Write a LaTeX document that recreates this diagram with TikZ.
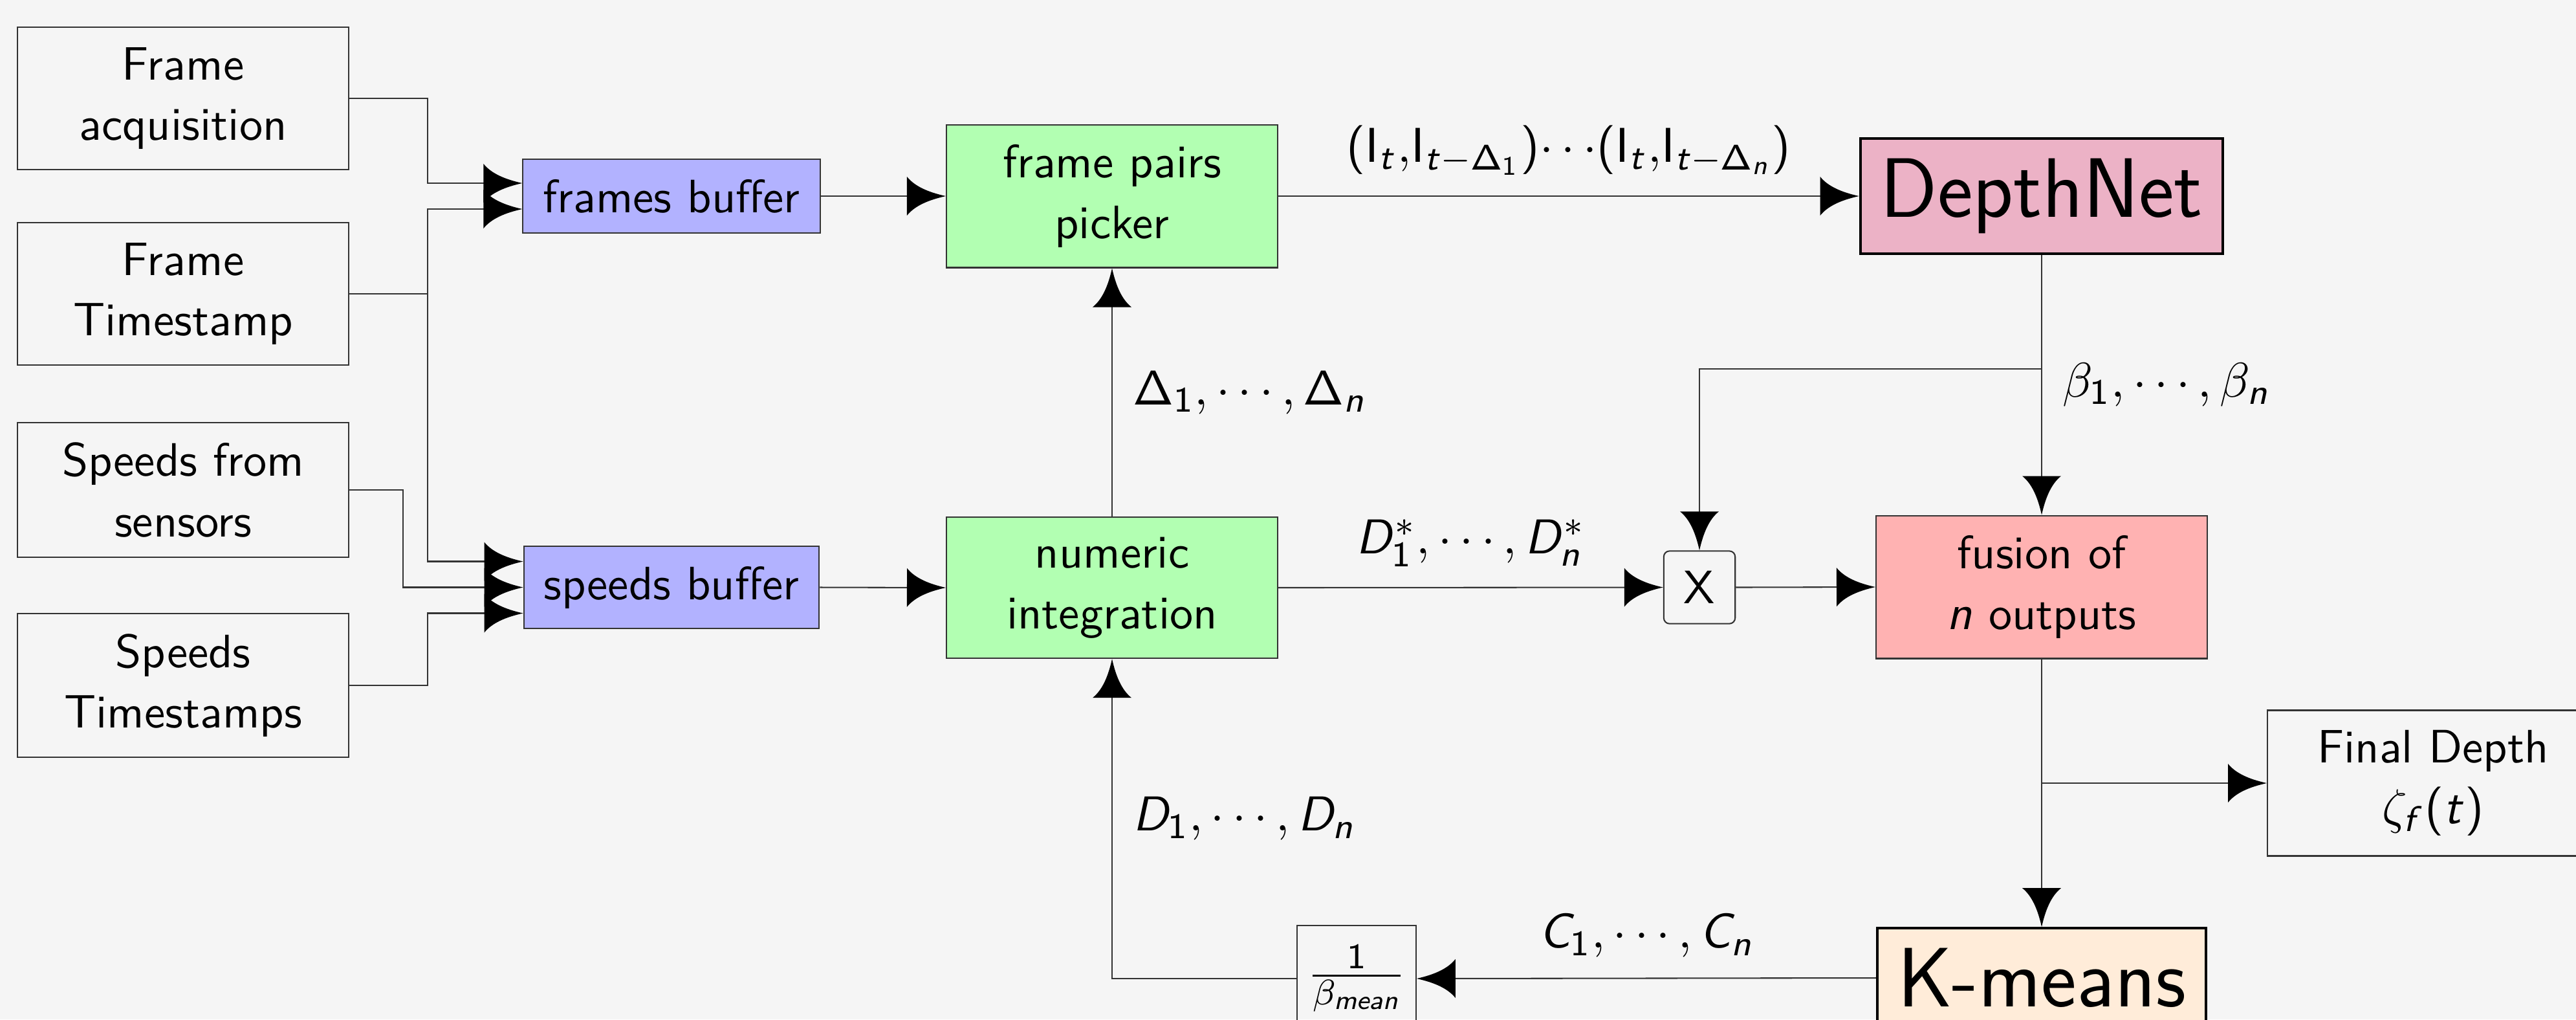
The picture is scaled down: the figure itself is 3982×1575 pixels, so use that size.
\documentclass[tikz,border=0pt]{standalone}
\usetikzlibrary{arrows.meta,calc}

% sans-serif math: upright digits, capitals Greek and brackets from cmss,
% Latin letters from slanted cmss; lowercase Greek stays in cmmi
\SetSymbolFont{operators}{normal}{OT1}{cmss}{m}{n}
\DeclareSymbolFont{sfit}{OT1}{cmss}{m}{sl}
\makeatletter
\@tempcnta=`a
\loop\ifnum\@tempcnta<\numexpr`z+1\relax
  \mathcode\@tempcnta=\numexpr"7000+\symsfit*256+\@tempcnta\relax
  \advance\@tempcnta\@ne
\repeat
\@tempcnta=`A
\loop\ifnum\@tempcnta<\numexpr`Z+1\relax
  \mathcode\@tempcnta=\numexpr"7000+\symsfit*256+\@tempcnta\relax
  \advance\@tempcnta\@ne
\repeat
\makeatother
\DeclareMathSizes{10.5}{10.5}{7.7}{5.9}

\newcommand\normsz{\sffamily\fontsize{10.5}{13.6}\selectfont}
\newcommand\bigsz{\sffamily\fontsize{18.9}{23}\selectfont}
\newcommand\pxu{0.0051cm}

% filled triangular tip with concave sides
\pgfdeclarearrow{
  name = CTri,
  parameters = {\the\pgfarrowlength,\the\pgfarrowwidth},
  setup code = {
    \pgfarrowssettipend{0pt}
    \pgfarrowssetbackend{-\pgfarrowlength}
    \pgfarrowssetlineend{-0.5\pgfarrowlength}
    \pgfarrowsupperhullpoint{-\pgfarrowlength}{0.5\pgfarrowwidth}
    \pgfarrowshullpoint{0pt}{0pt}
    \pgfarrowssavethe\pgfarrowlength
    \pgfarrowssavethe\pgfarrowwidth
  },
  drawing code = {
    \pgfpathmoveto{\pgfqpoint{0pt}{0pt}}
    \pgfpathcurveto{\pgfqpoint{-0.45\pgfarrowlength}{0.1\pgfarrowwidth}}
                   {\pgfqpoint{-0.8\pgfarrowlength}{0.25\pgfarrowwidth}}
                   {\pgfqpoint{-\pgfarrowlength}{0.5\pgfarrowwidth}}
    \pgfpathlineto{\pgfqpoint{-\pgfarrowlength}{-0.5\pgfarrowwidth}}
    \pgfpathcurveto{\pgfqpoint{-0.8\pgfarrowlength}{-0.25\pgfarrowwidth}}
                   {\pgfqpoint{-0.45\pgfarrowlength}{-0.1\pgfarrowwidth}}
                   {\pgfqpoint{0pt}{0pt}}
    \pgfpathclose
    \pgfusepathqfill
  },
  defaults = {length=8.7pt, width=8.7pt}
}

\tikzset{
  base/.style={draw=black!80, line width=0.3pt, inner sep=4.5pt,
               align=center, font=\normsz},
  plain/.style={base, minimum width=512*\pxu},
  buf/.style={base, fill=blue!30, minimum width=455*\pxu},
  proc/.style={plain, fill=green!30},
  net/.style={base, draw=black, line width=0.6pt, font=\bigsz},
  lab/.style={font=\normsz, inner sep=4.5pt},
  conn/.style={draw=black!80, line width=0.3pt},
  arr/.style={conn, -{CTri[black]}},
}

\begin{document}
\begin{tikzpicture}[x=0.0051cm, y=-0.0051cm]
  \useasboundingbox (0,0) rectangle (3982,1575);
  \clip (0,0) rectangle (3982,1575);
  \fill[black!4] (0,0) rectangle (3982,1575);

  % sources
  \node[plain] (acq)   at (283,152)  {Frame\\acquisition};
  \node[plain] (fts)   at (283,454)  {Frame\\Timestamp};
  \node[plain] (ssens) at (283,757)  {Speeds from\\sensors};
  \node[plain] (sts)   at (283,1059) {Speeds\\Timestamps};

  % buffers
  \node[buf] (fbuf) at (1038,303)   {frames buffer};
  \node[buf] (sbuf) at (1038,907.5) {speeds buffer};

  % processing
  \node[proc] (fpp)  at (1719,303) {frame pairs\\picker};
  \node[proc] (nint) at (1719,908) {numeric\\integration};
  \node[net, fill=purple!30] (dnet) at (3156,303) {DepthNet};
  \node[base, rounded corners=1.3pt] (mul) at (2627,907.5) {X};
  \node[plain, fill=red!30] (fus) at (3156,907) {fusion of\\$n$ outputs};
  \node[plain] (fd) at (3761,1210) {Final Depth\\$\zeta_f(t)$};
  \node[net, fill=orange!15] (km) at (3156,1511) {K-means};
  \node[base, inner xsep=3.5pt] (binv) at (2097,1512)
    {$\nulldelimiterspace=0pt\frac{1}{\beta_{mean}}$};

  % inputs to the buffers
  \draw[arr] (acq.east) -- ++(121,0) |- ($(fbuf.west)+(0,-20)$);
  \draw[arr] (fts.east) -- ++(121,0) |- ($(fbuf.west)+(0,20)$);
  \draw[arr] (fts.east) -- ++(121,0) |- ($(sbuf.west)+(0,-40)$);
  \draw[arr] (ssens.east) -- ++(83,0) |- (sbuf.west);
  \draw[arr] (sts.east) -- ++(121,0) |- ($(sbuf.west)+(0,40)$);

  % main flow
  \draw[arr] (fbuf.east) -- (fpp.west);
  \draw[arr] (sbuf.east) -- (nint.west);
  \draw[arr] (nint.north) -- node[lab, right] {$\Delta_1,\cdots,\Delta_n$} (fpp.south);
  \draw[arr] (fpp.east) -- node[lab, above]
    {$(\mathsf{I}_t{,}\mathsf{I}_{t-\Delta_1}){\cdots}(\mathsf{I}_t{,}\mathsf{I}_{t-\Delta_n})$} (dnet.west);
  \draw[arr] (nint.east) -- node[lab, above] {$D^*_1,\cdots,D^*_n$} (mul.west);
  \draw[arr] (dnet.south) -- node[lab, right] {$\beta_1,\cdots,\beta_n$} (fus.north);
  \coordinate (jb) at ($(dnet.south)+(0,176)$);
  \draw[arr] (jb) -| (mul.north);
  \draw[arr] (mul.east) -- (fus.west);
  \draw[arr] (fus.south) -- (km.north);
  \coordinate (jf) at (fus.south |- fd.west);
  \draw[arr] (jf) -- (fd.west);

  % feedback loop
  \draw[arr] (km.west) -- node[lab, above] {$C_1,\cdots,C_n$} (binv.east);
  \draw[arr] (binv.west) -| node[lab, right, pos=0.75] {$D_1,\cdots,D_n$} (nint.south);
\end{tikzpicture}
\end{document}
